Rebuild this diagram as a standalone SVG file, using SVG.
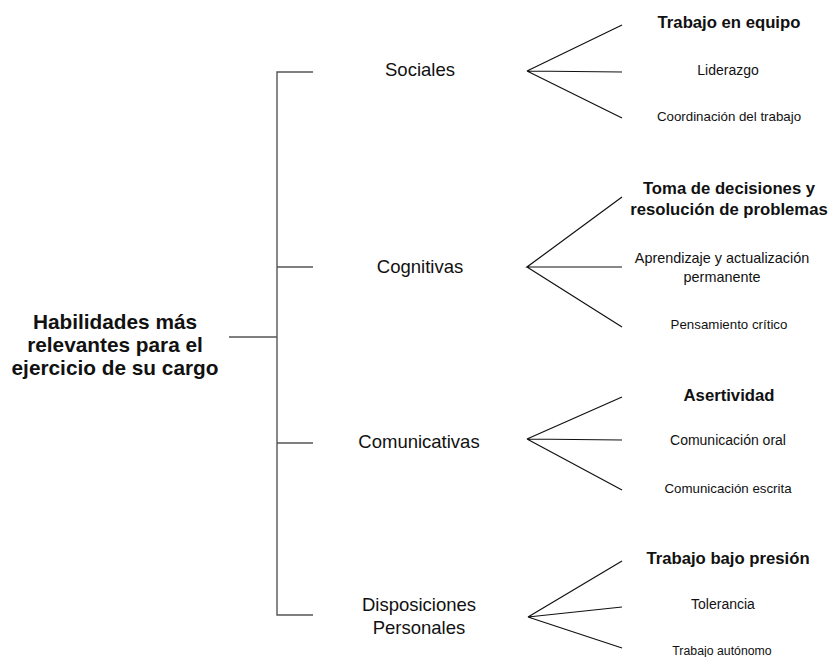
<svg xmlns="http://www.w3.org/2000/svg" width="828" height="657" viewBox="0 0 828 657">
<style>
text{font-family:"Liberation Sans",Arial,sans-serif;fill:#111;text-anchor:middle}
.root{font-size:20.8px;font-weight:bold}
.cat{font-size:18.5px}
.b{font-size:16.7px;font-weight:bold}
.r{font-size:14px}
.s{font-size:13.3px}
.br{stroke:#555;stroke-width:1.4;fill:none}
.fan{stroke:#111;stroke-width:1.2;fill:none}
</style>
<rect width="828" height="657" fill="#fff"/>
<g id="connectors">
<path class="br" d="M229,337H277M313,72H277V615H313M277,267H313M277,443H313"/>
<path class="fan" d="M622,25L527,71L622,72M527,71L622,118"/>
<path class="fan" d="M622,197L527,267L622,267M527,267L622,327"/>
<path class="fan" d="M622,397L527,439L622,440M527,439L622,490"/>
<path class="fan" d="M622,561L528,617L622,607M528,617L622,648"/>
</g>
<g id="root"><text class="root" x="115" y="329">Habilidades más</text><text class="root" x="115" y="352">relevantes para el</text><text class="root" x="115" y="375">ejercicio de su cargo</text></g>
<g id="sociales"><text class="cat" x="420" y="76">Sociales</text></g>
<g id="cognitivas"><text class="cat" x="420" y="273">Cognitivas</text></g>
<g id="comunicativas"><text class="cat" x="419" y="448">Comunicativas</text></g>
<g id="disposiciones"><text class="cat" x="419" y="611">Disposiciones</text><text class="cat" x="419" y="634">Personales</text></g>
<g id="trabajo-equipo"><text class="b" x="729" y="28">Trabajo en equipo</text></g>
<g id="liderazgo"><text class="r" x="728" y="75">Liderazgo</text></g>
<g id="coordinacion"><text class="s" x="729" y="121">Coordinación del trabajo</text></g>
<g id="toma-decisiones"><text class="b" x="729" y="194">Toma de decisiones y</text><text class="b" x="729" y="215">resolución de problemas</text></g>
<g id="aprendizaje"><text style="font-size:14.4px" x="722" y="263">Aprendizaje y actualización</text><text style="font-size:14.4px" x="722" y="282">permanente</text></g>
<g id="pensamiento"><text class="s" x="729" y="329">Pensamiento crítico</text></g>
<g id="asertividad"><text class="b" x="729" y="401">Asertividad</text></g>
<g id="com-oral"><text class="r" x="728" y="445">Comunicación oral</text></g>
<g id="com-escrita"><text class="s" x="728" y="493">Comunicación escrita</text></g>
<g id="bajo-presion"><text class="b" x="728" y="564">Trabajo bajo presión</text></g>
<g id="tolerancia"><text class="r" x="723" y="609">Tolerancia</text></g>
<g id="autonomo"><text style="font-size:12.3px" x="722" y="655">Trabajo autónomo</text></g>
</svg>
